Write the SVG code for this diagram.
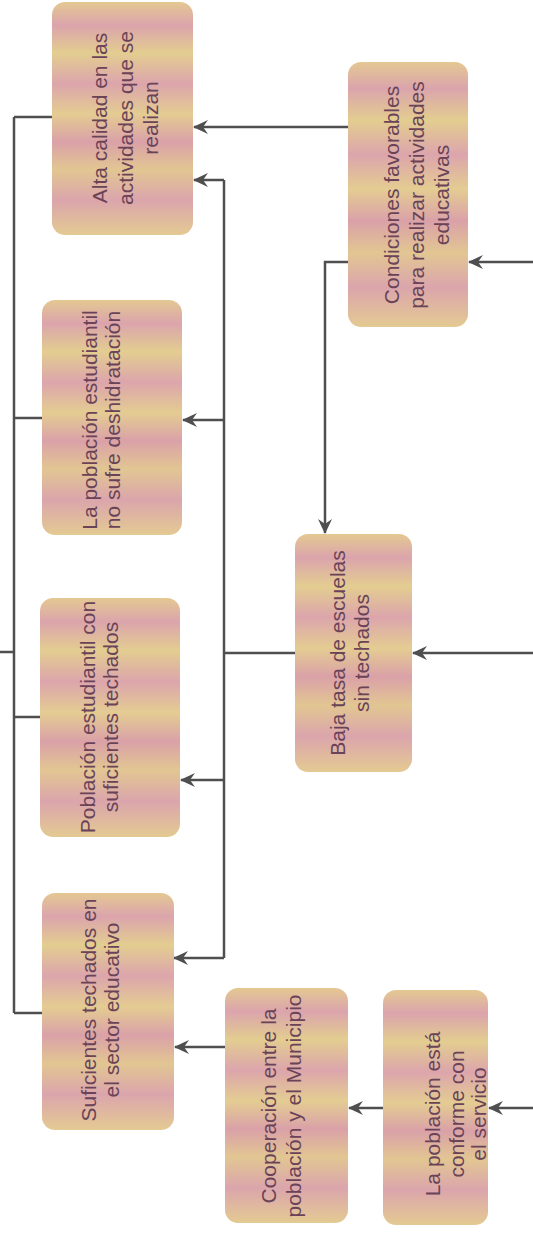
<svg xmlns="http://www.w3.org/2000/svg" width="533" height="1236" viewBox="0 0 533 1236">
<defs>
<linearGradient id="bands" x1="0" y1="0" x2="0" y2="1">
<stop offset="0" stop-color="#e4c892"/>
<stop offset="0.1" stop-color="#dba4ac"/>
<stop offset="0.22" stop-color="#e3cd90"/>
<stop offset="0.35" stop-color="#dca5ac"/>
<stop offset="0.48" stop-color="#e4cc92"/>
<stop offset="0.6" stop-color="#daa1a8"/>
<stop offset="0.72" stop-color="#e2c692"/>
<stop offset="0.85" stop-color="#dba5ac"/>
<stop offset="1" stop-color="#e4ca92"/>
</linearGradient>
<marker id="arr" markerWidth="16" markerHeight="16" refX="14" refY="8" orient="auto" markerUnits="userSpaceOnUse">
<path d="M0,1 L15,8 L0,15 L5,8 Z" fill="#4f4f4f"/>
</marker>
<style>
.box{fill:url(#bands);stroke:none}
.lbl{font-family:"Liberation Sans",Arial,sans-serif;font-size:21px;fill:#6a4358;text-anchor:middle}
.ln{fill:none;stroke:#4f4f4f;stroke-width:2.5}
.ar{fill:none;stroke:#4f4f4f;stroke-width:2.5;marker-end:url(#arr)}
</style>
</defs>
<rect width="533" height="1236" fill="#ffffff"/>

<g id="connectors">
<path class="ar" d="M348,127 H194"/>
<path class="ar" d="M533,262 H469"/>
<path class="ar" d="M348,262 H325 V533"/>
<path class="ar" d="M533,653 H413"/>
<path class="ln" d="M295,653 H224"/>
<path class="ln" d="M224,180 V958"/>
<path class="ar" d="M224,180 H194"/>
<path class="ar" d="M224,420 H183"/>
<path class="ar" d="M224,780 H181"/>
<path class="ar" d="M224,958 H174"/>
<path class="ln" d="M14,117 V1013"/>
<path class="ln" d="M52,117 H14"/>
<path class="ln" d="M42,418 H14"/>
<path class="ln" d="M40,717 H14"/>
<path class="ln" d="M42,1013 H14"/>
<path class="ln" d="M14,652 H0"/>
<path class="ar" d="M225,1047 H175"/>
<path class="ar" d="M383,1108 H349"/>
<path class="ar" d="M533,1108 H489"/>
</g>

<g id="n1">
<rect class="box" x="52" y="2" width="141" height="233" rx="13"/>
<text class="lbl" transform="translate(0,118) rotate(-90)"><tspan x="0" y="107">Alta calidad en las</tspan><tspan x="0" y="133">actividades que se</tspan><tspan x="0" y="158">realizan</tspan></text>
</g>

<g id="n2">
<rect class="box" x="348" y="62" width="120" height="265" rx="13"/>
<text class="lbl" transform="translate(0,195) rotate(-90)"><tspan x="0" y="399">Condiciones favorables</tspan><tspan x="0" y="424">para realizar actividades</tspan><tspan x="0" y="449">educativas</tspan></text>
</g>

<g id="n3">
<rect class="box" x="42" y="300" width="140" height="235" rx="13"/>
<text class="lbl" transform="translate(0,420) rotate(-90)"><tspan x="0" y="97">La población estudiantil</tspan><tspan x="0" y="120">no sufre deshidratación</tspan></text>
</g>

<g id="n4">
<rect class="box" x="40" y="598" width="140" height="239" rx="13"/>
<text class="lbl" transform="translate(0,717) rotate(-90)"><tspan x="0" y="95">Población estudiantil con</tspan><tspan x="0" y="118">suficientes techados</tspan></text>
</g>

<g id="n5">
<rect class="box" x="42" y="893" width="132" height="237" rx="13"/>
<text class="lbl" transform="translate(0,1010) rotate(-90)"><tspan x="0" y="96">Suficientes techados en</tspan><tspan x="0" y="119">el sector educativo</tspan></text>
</g>

<g id="n6">
<rect class="box" x="225" y="988" width="123" height="235" rx="13"/>
<text class="lbl" transform="translate(0,1106) rotate(-90)"><tspan x="0" y="276">Cooperación entre la</tspan><tspan x="0" y="301">población y el Municipio</tspan></text>
</g>

<g id="n7">
<rect class="box" x="383" y="990" width="105" height="235" rx="13"/>
<text class="lbl" transform="translate(0,1114) rotate(-90)"><tspan x="0" y="440">La población está</tspan><tspan x="0" y="464">conforme con</tspan><tspan x="0" y="486">el servicio</tspan></text>
</g>

<g id="n8">
<rect class="box" x="295" y="534" width="117" height="238" rx="13"/>
<text class="lbl" transform="translate(0,653) rotate(-90)"><tspan x="0" y="345">Baja tasa de escuelas</tspan><tspan x="0" y="369">sin techados</tspan></text>
</g>
</svg>
